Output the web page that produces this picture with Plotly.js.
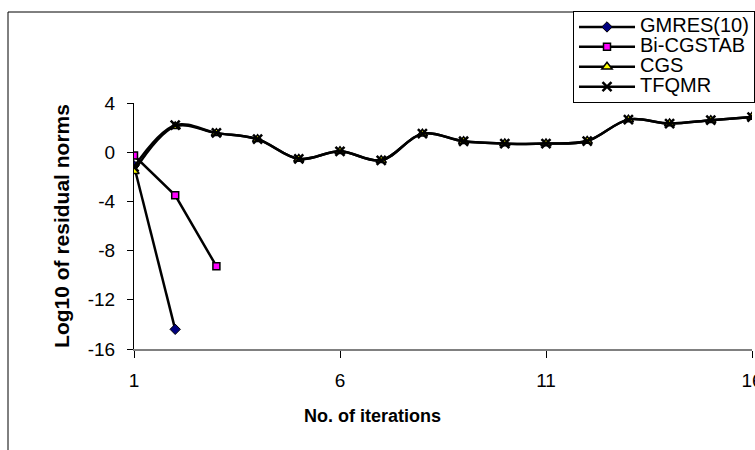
<!DOCTYPE html>
<html><head><meta charset="utf-8">
<script src="https://cdn.plot.ly/plotly-3.0.1.min.js"></script>
<style>html,body{margin:0;padding:0;background:#fff}#chart{width:755px;height:450px}</style>
</head><body><div id="chart"></div>
<script>
const iterations = [1,2,3,4,5,6,7,8,9,10,11,12,13,14,15,16];
const gmresX = [1,2];
const gmres = [-1.1, -14.4];
const bicgstabX = [1,2,3];
const bicgstab = [-0.27, -3.5, -9.27];
const cgs = [-1.55, 2.1, 1.55, 1.05, -0.55, 0.07, -0.66, 1.5, 0.89, 0.7, 0.7, 0.91, 2.65, 2.33, 2.6, 2.86];
const tfqmr = [-1.2, 2.2, 1.57, 1.06, -0.54, 0.07, -0.66, 1.51, 0.89, 0.7, 0.7, 0.91, 2.65, 2.33, 2.6, 2.86];
const xTicks = [1,6,11,16];
const yTicks = [-16,-12,-8,-4,0,4];
const names = ['GMRES(10)','Bi-CGSTAB','CGS','TFQMR'];
const xTitle = 'No. of iterations';
const yTitle = 'Log10 of residual norms';

const FONT = 'Liberation Sans, Arial, sans-serif';
const L = 134, R = 3, T = 103, B = 101;
const W = 755, H = 450;
const pw = W - L - R, ph = H - T - B;
const px = v => (v - L) / pw;
const py = v => (H - B - v) / ph;
const legName = s => '<span style="font-size:20px">' + s + '</span>';

const lineStyle = {color:'#000', width:2.5};
const traces = [
  {x:gmresX, y:gmres, name:legName(names[0]), mode:'lines+markers', line:lineStyle,
   marker:{symbol:'diamond', size:8, color:'#000080', line:{color:'#000', width:1}}},
  {x:bicgstabX, y:bicgstab, name:legName(names[1]), mode:'lines+markers', line:lineStyle,
   marker:{symbol:'square', size:7, color:'#FF00FF', line:{color:'#000', width:1.5}}},
  {x:iterations, y:cgs, name:legName(names[2]), mode:'lines+markers', line:Object.assign({shape:'spline', smoothing:1}, lineStyle),
   marker:{symbol:'triangle-up', size:9, color:'#FFFF00', line:{color:'#000', width:1.5}}},
  {x:iterations, y:tfqmr, name:legName(names[3]), mode:'lines+markers', line:Object.assign({shape:'spline', smoothing:1}, lineStyle),
   marker:{symbol:'x-thin', size:9, color:'#000', line:{color:'#000', width:2.5}}}
];

const layout = {
  width:W, height:H,
  margin:{l:L, r:R, t:T, b:B, pad:0, autoexpand:false},
  paper_bgcolor:'#fff', plot_bgcolor:'#fff',
  font:{family:FONT, size:18, color:'#000'},
  showlegend:true,
  legend:{x:px(573), y:py(11), xanchor:'left', yanchor:'top',
    bgcolor:'#fff', bordercolor:'#000', borderwidth:1,
    font:{family:FONT, size:13, color:'#000'}, itemwidth:56, tracegroupgap:0},
  xaxis:{range:[1,16], tickvals:xTicks, ticktext:xTicks.map(String),
    showgrid:false, zeroline:false, showline:true, linecolor:'#808080', linewidth:2,
    ticks:'outside', ticklen:7, tickcolor:'#000', tickwidth:1,
    ticklabelstandoff:6, ticklabeloverflow:'allow',
    tickfont:{family:FONT, size:19, color:'#000'}},
  yaxis:{range:[-16,4], tickvals:yTicks, ticktext:yTicks.map(String),
    showgrid:false, zeroline:false, showline:true, linecolor:'#000', linewidth:1,
    ticks:'outside', ticklen:6, tickcolor:'#000', tickwidth:1, ticklabelstandoff:8,
    tickfont:{family:FONT, size:19, color:'#000'},
    title:{text:yTitle, standoff:12, font:{family:FONT, size:21, color:'#000', weight:'bold'}}},
  annotations:[{text:xTitle, xref:'paper', yref:'paper', x:px(372), y:py(416),
    xanchor:'center', yanchor:'middle', showarrow:false,
    font:{family:FONT, size:18, color:'#000', weight:'bold'}}],
  shapes:[{type:'rect', xref:'paper', yref:'paper', x0:px(8), x1:px(900), y0:py(12), y1:py(600),
    line:{color:'#000', width:1}, fillcolor:'rgba(0,0,0,0)', layer:'below'}]
};

Plotly.newPlot('chart', traces, layout, {displayModeBar:false, staticPlot:true});
</script></body></html>
